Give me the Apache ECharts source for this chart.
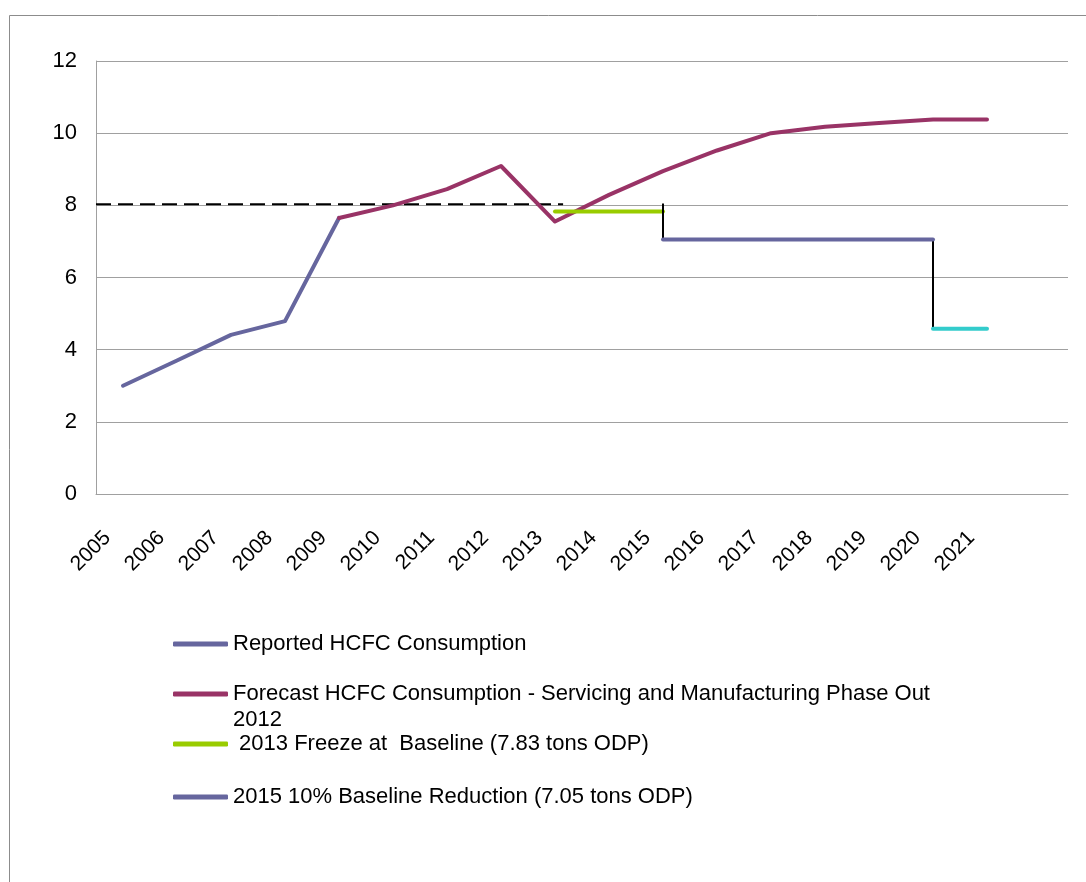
<!DOCTYPE html>
<html>
<head>
<meta charset="utf-8">
<title>HCFC Consumption</title>
<script src="https://cdn.jsdelivr.net/npm/echarts@6/dist/echarts.min.js"></script>
<style>
  html, body { margin: 0; padding: 0; background: #fff; overflow: hidden; }
  #chart { width: 1086px; height: 882px; }
</style>
</head>
<body>
<div id="chart"></div>
<script>
// years on the category axis (Excel leaves one empty slot at the end)
const years = ['2005', '2006', '2007', '2008', '2009', '2010', '2011', '2012', '2013',
  '2014', '2015', '2016', '2017', '2018', '2019', '2020', '2021', '']
const yTicks = { min: 0, max: 12, interval: 2 }

const reported = [3.0, 3.7, 4.41, 4.79, 7.65, null, null, null, null, null, null, null, null, null, null, null, null]
const forecast = [null, null, null, null, 7.65, 8.0, 8.45, 9.09, 7.55, 8.29, 8.95, 9.52, 10.0, 10.18, 10.28, 10.38, 10.38]
const freeze = [null, null, null, null, null, null, null, null, 7.83, 7.83, 7.83, null, null, null, null, null, null]
const reduction = [null, null, null, null, null, null, null, null, null, null, 7.05, 7.05, 7.05, 7.05, 7.05, 7.05, null]
const reduction2020 = [null, null, null, null, null, null, null, null, null, null, null, null, null, null, null, 4.58, 4.58]

// drawn shapes on a hidden linear x axis (0..18, slot i centred at i + 0.5)
const baselineDash = [[0, 8.03], [8.65, 8.03]]
const step2015 = [[10.5, 8.05], [10.5, 7.05]]
const step2020 = [[15.5, 7.05], [15.5, 4.58]]

const names = [
  'Reported HCFC Consumption',
  'Forecast HCFC Consumption - Servicing and Manufacturing Phase Out 2012',
  ' 2013 Freeze at  Baseline (7.83 tons ODP)',
  '2015 10% Baseline Reduction (7.05 tons ODP)'
]

const FONT = '"Liberation Sans", Arial, sans-serif'
const gridColor = '#a0a0a0'

function mainLine(name, data, color) {
  return {
    name: name,
    type: 'line',
    data: data,
    symbol: 'none',
    connectNulls: false,
    lineStyle: { width: 4, color: color, cap: 'round', join: 'round' },
    itemStyle: { color: color }
  }
}

function shapeLine(name, data, width, type) {
  return {
    name: name,
    type: 'line',
    xAxisIndex: 1,
    data: data,
    symbol: 'none',
    lineStyle: { width: width, color: '#000', type: type },
    itemStyle: { color: '#000' }
  }
}

function legendAt(name, top, extra) {
  return Object.assign({
    data: [name],
    left: 173,
    top: top,
    padding: 0,
    selectedMode: false,
    icon: 'roundRect',
    itemWidth: 55,
    itemHeight: 5,
    itemGap: 0,
    textStyle: { fontFamily: FONT, fontSize: 22, color: '#000', lineHeight: 26 }
  }, extra || {})
}

const chart = echarts.init(document.getElementById('chart'))
chart.setOption({
  animation: false,
  backgroundColor: '#fff',
  graphic: [{
    type: 'rect',
    shape: { x: 9.5, y: 15.5, width: 1200, height: 1000 },
    style: { fill: 'none', stroke: '#8c8c8c', lineWidth: 1 },
    silent: true
  }],
  grid: { left: 96, top: 61, right: 18, bottom: 388 },
  legend: [
    legendAt(names[0], 631),
    // blank first line keeps the icon level with the first text line
    legendAt(names[1], 655, {
      formatter: name => '\n' + name,
      textStyle: { fontFamily: FONT, fontSize: 22, color: '#000', lineHeight: 26,
        width: 720, overflow: 'break' }
    }),
    legendAt(names[2], 731),
    legendAt(names[3], 784)
  ],
  xAxis: [{
    type: 'category',
    data: years,
    boundaryGap: true,
    axisLine: { show: true, lineStyle: { color: gridColor, width: 1 } },
    axisTick: { show: false },
    axisLabel: {
      interval: 0, rotate: 45, margin: 25, padding: [0, 22, 0, 0],
      fontFamily: FONT, fontSize: 21, color: '#000'
    },
    splitLine: { show: false }
  }, {
    type: 'value',
    min: 0,
    max: 18,
    show: false,
    splitLine: { show: false }
  }],
  yAxis: {
    type: 'value',
    min: yTicks.min,
    max: yTicks.max,
    interval: yTicks.interval,
    axisLine: { show: true, lineStyle: { color: gridColor, width: 1 } },
    axisTick: { show: false },
    axisLabel: { margin: 19, fontFamily: FONT, fontSize: 22, color: '#000' },
    splitLine: { lineStyle: { color: gridColor, width: 1 } }
  },
  series: [
    shapeLine('baseline', baselineDash, 2, [15, 7]),
    mainLine(names[0], reported, '#66669e'),
    mainLine(names[1], forecast, '#993366'),
    mainLine(names[2], freeze, '#99cc00'),
    shapeLine('step 2015', step2015, 2, 'solid'),
    shapeLine('step 2020', step2020, 2, 'solid'),
    mainLine(names[3], reduction, '#66669e'),
    mainLine('2020 reduction', reduction2020, '#33cccc')
  ]
})
</script>
</body>
</html>
